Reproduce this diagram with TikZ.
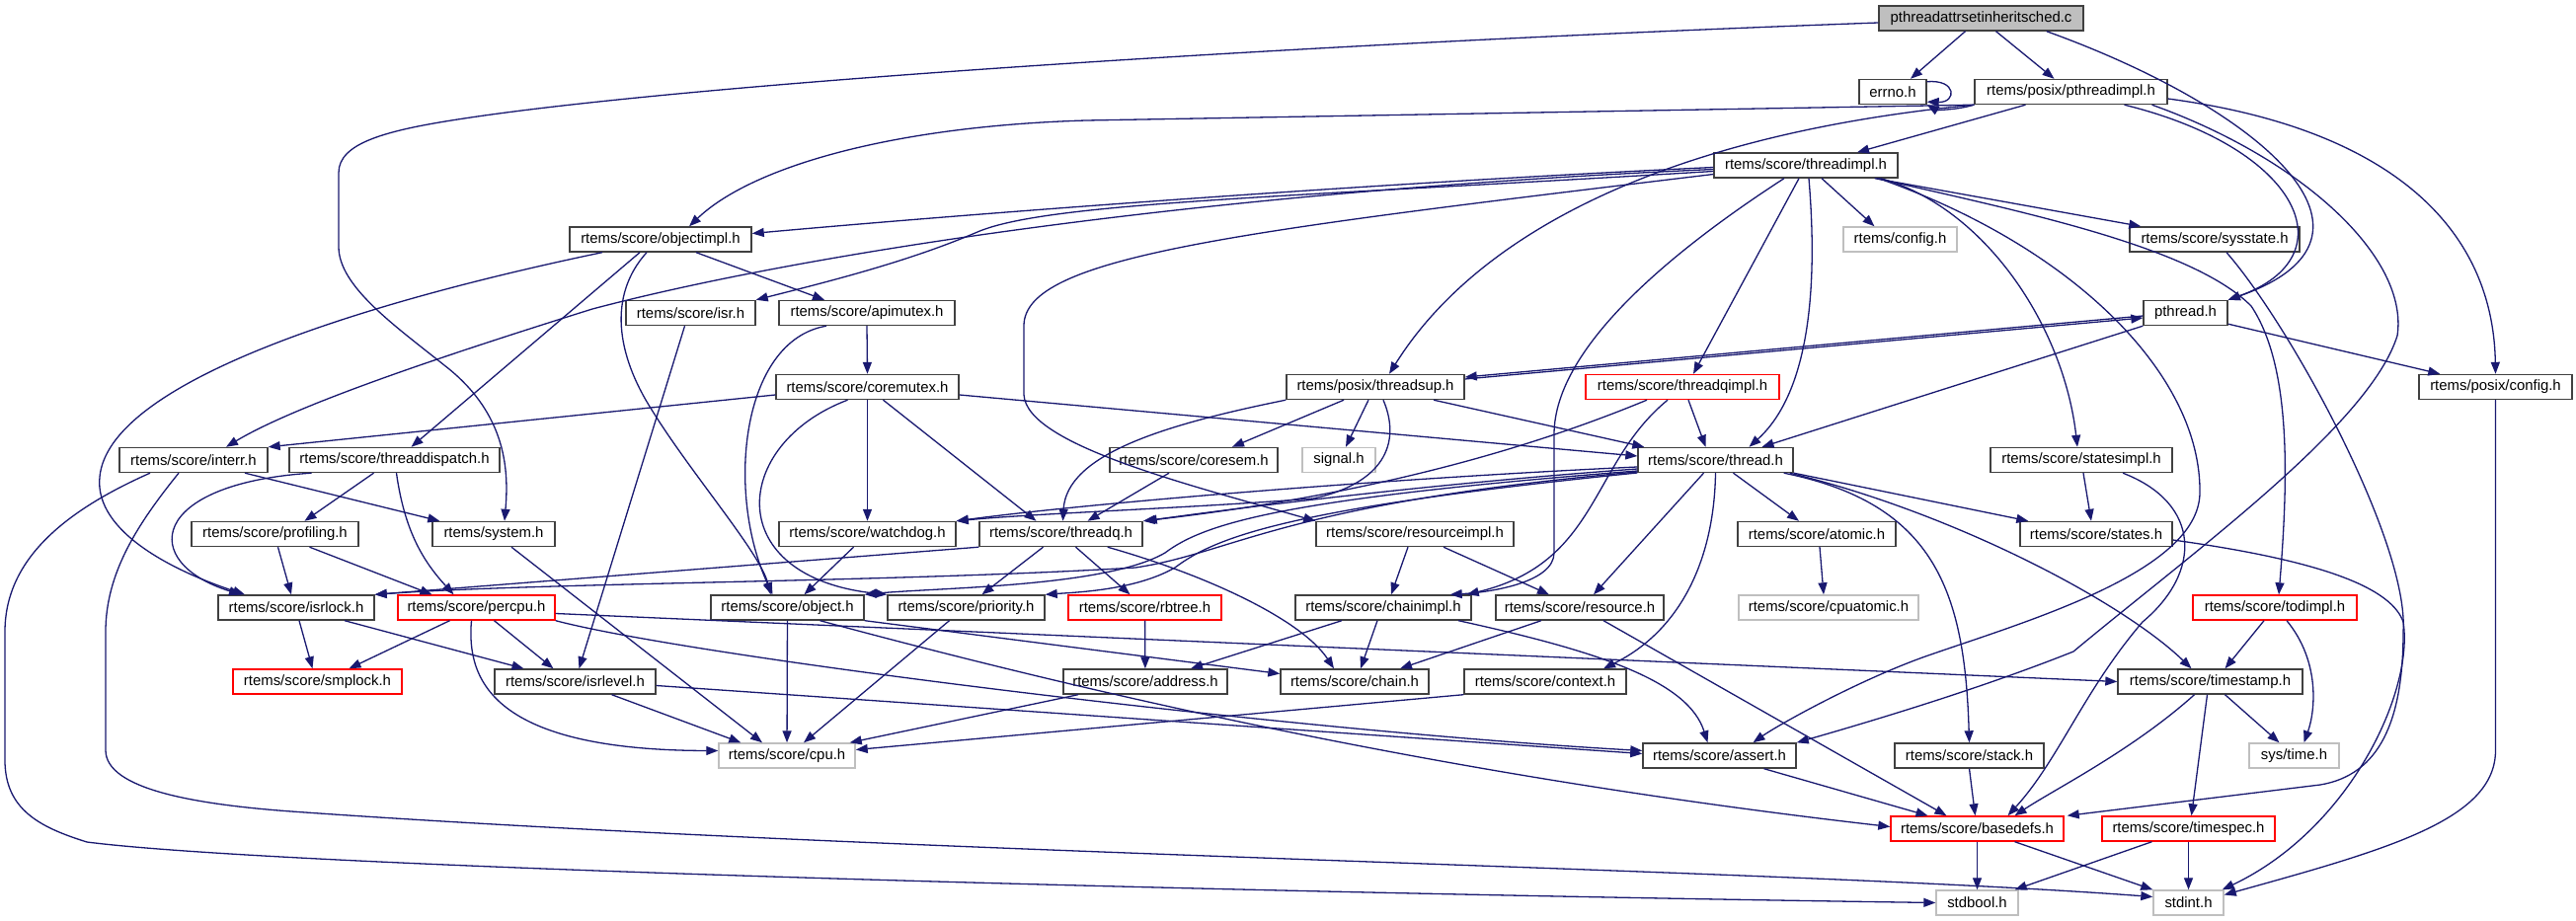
\documentclass[tikz,border=0pt]{standalone}
\usepackage{fontspec}
\setmainfont{Liberation Sans}
\usetikzlibrary{arrows.meta}
\definecolor{mblue}{RGB}{25,25,112}
\definecolor{gfive}{RGB}{64,64,64}
\definecolor{gsev}{RGB}{191,191,191}
\tikzset{
  nd/.style={draw=gfive, line width=1.4pt, fill=white, inner sep=0pt, minimum height=25pt, font=\fontsize{14.9pt}{17pt}\selectfont, text=black},
  rd/.style={nd, draw=red},
  gy/.style={nd, draw=gsev},
  dep/.style={draw=mblue, line width=1.3pt, -{Triangle[length=12pt,width=9pt]}},
}
\begin{document}
\begin{tikzpicture}[x=1pt,y=-1pt]
\path[use as bounding box, fill=white] (0,0) rectangle (2609,933);
% nodes
\node[nd, fill=gsev, minimum width=207pt] (T) at (2006.5,18.5) {pthreadattrsetinheritsched.c};
\node[nd, minimum width=68pt] (errno) at (1917,93) {errno.h};
\node[nd, minimum width=195pt] (PI) at (2097.5,93) {rtems/posix/pthreadimpl.h};
\node[nd, minimum width=186pt] (TI) at (1829,167.5) {rtems/score/threadimpl.h};
\node[nd, minimum width=184pt] (OI) at (669,242.5) {rtems/score/objectimpl.h};
\node[gy, minimum width=115pt] (CFG) at (1924.5,242.5) {rtems/config.h};
\node[nd, minimum width=172pt] (SYS) at (2243,242.5) {rtems/score/sysstate.h};
\node[nd, minimum width=131pt] (ISR) at (699.5,317) {rtems/score/isr.h};
\node[nd, minimum width=178pt] (AM) at (878,317) {rtems/score/apimutex.h};
\node[nd, minimum width=85pt] (PT) at (2213.5,317) {pthread.h};
\node[nd, minimum width=185pt] (CM) at (878.5,392) {rtems/score/coremutex.h};
\node[nd, minimum width=180pt] (TS) at (1393,392) {rtems/posix/threadsup.h};
\node[rd, minimum width=196pt] (TQI) at (1704,392) {rtems/score/threadqimpl.h};
\node[nd, minimum width=155pt] (PCFG) at (2527.5,392) {rtems/posix/config.h};
\node[nd, minimum width=150pt] (IE) at (196,466) {rtems/score/interr.h};
\node[nd, minimum width=213pt] (TD) at (399.5,466) {rtems/score/threaddispatch.h};
\node[nd, minimum width=170pt] (CS) at (1209,466) {rtems/score/coresem.h};
\node[gy, minimum width=74pt] (SIG) at (1356,466) {signal.h};
\node[nd, minimum width=157pt] (TH) at (1737.5,466) {rtems/score/thread.h};
\node[nd, minimum width=184pt] (SI) at (2108,466) {rtems/score/statesimpl.h};
\node[nd, minimum width=169pt] (PROF) at (278.5,541) {rtems/score/profiling.h};
\node[nd, minimum width=124pt] (SYSH) at (500,541) {rtems/system.h};
\node[nd, minimum width=179pt] (WD) at (878.5,541) {rtems/score/watchdog.h};
\node[nd, minimum width=165pt] (TQ) at (1074.5,541) {rtems/score/threadq.h};
\node[nd, minimum width=200pt] (RI) at (1433,541) {rtems/score/resourceimpl.h};
\node[nd, minimum width=160pt] (AT) at (1840,541) {rtems/score/atomic.h};
\node[nd, minimum width=154pt] (ST) at (2123,541) {rtems/score/states.h};
\node[nd, minimum width=158pt] (IL) at (300,615.5) {rtems/score/isrlock.h};
\node[rd, minimum width=159pt] (PC) at (482.5,615.5) {rtems/score/percpu.h};
\node[nd, minimum width=155pt] (OBJ) at (797.5,615.5) {rtems/score/object.h};
\node[nd, minimum width=159pt] (PRI) at (978.5,615.5) {rtems/score/priority.h};
\node[rd, minimum width=155pt] (RB) at (1159.5,615.5) {rtems/score/rbtree.h};
\node[nd, minimum width=178pt] (CI) at (1401,615.5) {rtems/score/chainimpl.h};
\node[nd, minimum width=170pt] (RES) at (1600,615.5) {rtems/score/resource.h};
\node[gy, minimum width=182pt] (CA) at (1852,615.5) {rtems/score/cpuatomic.h};
\node[rd, minimum width=166pt] (TOD) at (2304,615.5) {rtems/score/todimpl.h};
\node[rd, minimum width=171pt] (SMP) at (321.5,690.5) {rtems/score/smplock.h};
\node[nd, minimum width=163pt] (ILV) at (582.5,690.5) {rtems/score/isrlevel.h};
\node[nd, minimum width=166pt] (ADR) at (1160,690.5) {rtems/score/address.h};
\node[nd, minimum width=150pt] (CH) at (1372,690.5) {rtems/score/chain.h};
\node[nd, minimum width=164pt] (CTX) at (1565,690.5) {rtems/score/context.h};
\node[nd, minimum width=187pt] (TSP) at (2238.5,690.5) {rtems/score/timestamp.h};
\node[gy, minimum width=138pt] (CPU) at (797,765.5) {rtems/score/cpu.h};
\node[nd, minimum width=155pt] (AS) at (1741.5,765.5) {rtems/score/assert.h};
\node[nd, minimum width=151pt] (STK) at (1994.5,765.5) {rtems/score/stack.h};
\node[gy, minimum width=91pt] (STM) at (2323.5,765.5) {sys/time.h};
\node[rd, minimum width=175pt] (BD) at (2002.5,839.5) {rtems/score/basedefs.h};
\node[rd, minimum width=175pt] (TSPEC) at (2216.5,839.5) {rtems/score/timespec.h};
\node[gy, minimum width=83pt] (SB) at (2002.5,914.5) {stdbool.h};
\node[gy, minimum width=71pt] (SI2) at (2216.5,914.5) {stdint.h};
% top file
\draw[dep] ([xshift=-16pt]T.south) -- ([xshift=18pt]errno.north);
\draw[dep] ([xshift=15pt]T.south) -- ([xshift=-17pt]PI.north);
\draw[dep] ([xshift=-38pt]T.south east) .. controls (2290,110) and (2440,240) .. (PT.north east);
\draw[dep] ([yshift=-4.5pt]T.west) .. controls (1300,45) and (700,85) .. (470,120) .. controls (390,132) and (343,145) .. (343,175) -- (343,250) .. controls (343,290) and (400,330) .. (450,370) .. controls (515,420) and (515,480) .. ([xshift=11pt]SYSH.north);
% errno
\draw[dep] ([yshift=-3pt]errno.north east) .. controls (1982,80) and (1982,104) .. ([yshift=3pt]errno.south east);
% pthreadimpl
\draw[dep] (PI.south west) .. controls (1980,112) and (1960,111) .. (errno.south east);
\draw[dep] (PI.south west) -- (1100,122) .. controls (900,128) and (760,170) .. ([xshift=29pt]OI.north);
\draw[dep] (PI.south west) .. controls (1700,135) and (1500,230) .. ([xshift=14pt]TS.north);
\draw[dep] ([xshift=-46pt]PI.south) -- ([xshift=52pt]TI.north);
\draw[dep] ([xshift=54pt]PI.south) .. controls (2330,150) and (2380,260) .. (PT.north east);
\draw[dep] ([yshift=-7pt]PI.east) .. controls (2420,130) and (2525,230) .. (PCFG.north);
\draw[dep] ([xshift=82pt]PI.south) .. controls (2330,160) and (2440,260) .. (2428,340) .. controls (2400,430) and (2220,560) .. (2100,660) .. controls (2000,700) and (1880,735) .. (AS.north east);
% threadimpl
\draw[dep] ([yshift=-2pt]TI.west) .. controls (1400,185) and (1000,215) .. ([yshift=6pt]OI.east);
\draw[dep] ([yshift=-4pt]TI.west) .. controls (1200,195) and (800,260) .. (600,313) .. controls (450,360) and (300,410) .. ([xshift=33pt]IE.north);
\draw[dep] ([yshift=-6pt]TI.west) .. controls (1300,200) and (1060,205) .. (990,235) .. controls (920,265) and (840,285) .. (ISR.north east);
\draw[dep] ([yshift=-9pt]TI.west) .. controls (1250,235) and (1037,260) .. (1037,330) -- (1037,400) .. controls (1040,450) and (1200,490) .. (RI.north west);
\draw[dep] ([xshift=16pt]TI.south) -- ([xshift=-26pt]CFG.north);
\draw[dep] ([xshift=-24pt]TI.south east) -- ([xshift=12pt]SYS.north west);
\draw[dep] ([xshift=-18pt]TI.south east) .. controls (2010,210) and (2090,330) .. ([xshift=-4pt]SI.north);
\draw[dep] ([xshift=-22pt]TI.south east) .. controls (2050,215) and (2220,250) .. (2280,310) .. controls (2320,370) and (2318,480) .. ([xshift=4pt]TOD.north);
\draw[dep] ([xshift=-20pt]TI.south east) .. controls (2100,250) and (2230,380) .. (2228,500) .. controls (2226,580) and (2050,630) .. (1950,665) .. controls (1880,690) and (1800,735) .. ([xshift=34pt]AS.north);
\draw[dep] ([xshift=-22pt]TI.south) .. controls (1700,250) and (1574,350) .. (1574,440) -- (1574,560) .. controls (1574,590) and (1510,600) .. ([xshift=-22pt]CI.north east);
\draw[dep] ([xshift=-7pt]TI.south) -- ([xshift=11pt]TQI.north);
\draw[dep] ([xshift=3pt]TI.south) .. controls (1842,300) and (1830,400) .. ([xshift=34pt]TH.north);
% pthread.h
\draw[dep] ([yshift=-3pt]PT.west) -- ([yshift=10pt]TS.east);
\draw[dep] ([yshift=8pt]TS.east) -- ([yshift=-5pt]PT.west);
\draw[dep] ([yshift=2pt]PT.south east) -- ([xshift=22pt]PCFG.north west);
\draw[dep] (PT.south west) -- ([xshift=47pt]TH.north);
% threadsup
\draw[dep] ([xshift=-32pt]TS.south) -- ([xshift=39pt]CS.north);
\draw[dep] ([xshift=-7pt]TS.south) -- ([xshift=7pt]SIG.north);
\draw[dep] ([xshift=59pt]TS.south) -- ([xshift=7pt]TH.north west);
\draw[dep] (TS.south west) .. controls (1180,430) and (1080,460) .. ([xshift=2pt]TQ.north);
\draw[dep] ([xshift=8pt]TS.south) .. controls (1420,450) and (1400,490) .. (1330,505) .. controls (1200,515) and (1050,520) .. (WD.north east);
% threadqimpl
\draw[dep] ([xshift=6pt]TQI.south) -- ([xshift=-10pt]TH.north);
\draw[dep] ([xshift=-15pt]TQI.south) .. controls (1610,470) and (1620,570) .. ([xshift=-5pt]CI.north east);
\draw[dep] ([xshift=-36pt]TQI.south) .. controls (1560,450) and (1400,500) .. (TQ.north east);
% thread.h
\draw[dep] ([xshift=18pt]TH.south) -- ([xshift=-18pt]AT.north);
\draw[dep] ([xshift=-12pt]TH.south) -- ([xshift=14pt]RES.north);
\draw[dep] (TH.south) .. controls (1736,570) and (1700,640) .. ([xshift=59pt]CTX.north);
\draw[dep] ([xshift=-10pt]TH.south east) .. controls (1960,510) and (1990,600) .. (STK.north);
\draw[dep] (TH.south east) -- ([xshift=9pt]ST.north west);
\draw[dep] ([xshift=-4pt]TH.south east) .. controls (1980,520) and (2150,610) .. ([xshift=-19pt]TSP.north);
\draw[dep] ([yshift=-7pt]TH.west) .. controls (1400,485) and (1100,510) .. (WD.north east);
\draw[dep] ([yshift=-9pt]TH.west) .. controls (1450,490) and (1250,515) .. ([xshift=2pt]TQ.north east);
\draw[dep] ([yshift=-11pt]TH.west) .. controls (1300,505) and (1220,530) .. (1180,560) .. controls (1120,595) and (950,595) .. (OBJ.north east);
\draw[dep] ([yshift=-13pt]TH.west) .. controls (1300,515) and (1230,545) .. (1190,575) .. controls (1150,598) and (1090,600) .. (PRI.north east);
\draw[dep] ([yshift=-12pt]TH.west) .. controls (1300,510) and (1250,560) .. (1150,575) .. controls (900,590) and (550,590) .. (IL.north east);
% coremutex
\draw[dep] ([yshift=-8pt]CM.west) -- (IE.north east);
\draw[dep] ([yshift=-8pt]CM.east) -- ([yshift=4pt]TH.west);
\draw[dep] (CM) -- (WD);
\draw[dep] ([xshift=16pt]CM.south) -- ([xshift=-25pt]TQ.north);
\draw[dep] ([xshift=-20pt]CM.south) .. controls (740,450) and (730,585) .. (PRI.north west);
% apimutex
\draw[dep] (AM.south) -- (CM.north);
\draw[dep] ([xshift=-41pt]AM.south) .. controls (750,345) and (735,500) .. ([xshift=-15pt]OBJ.north);
% objectimpl
\draw[dep] ([xshift=36pt]OI.south) -- ([xshift=-43pt]AM.north);
\draw[dep] ([xshift=-21pt]OI.south) -- ([xshift=17pt]TD.north);
\draw[dep] ([xshift=-14pt]OI.south) .. controls (615,300) and (625,360) .. (660,415) .. controls (700,480) and (770,560) .. ([xshift=-17pt]OBJ.north);
\draw[dep] ([xshift=-59pt]OI.south) .. controls (350,310) and (110,390) .. (101,483) .. controls (95,540) and (180,580) .. ([xshift=-52pt]IL.north);
% isr
\draw[dep] ([xshift=-6pt]ISR.south) -- ([xshift=4pt]ILV.north);
% coresem
\draw[dep] ([xshift=-25pt]CS.south) -- ([xshift=27pt]TQ.north);
% threaddispatch
\draw[dep] ([xshift=-21pt]TD.south) -- ([xshift=30pt]PROF.north);
\draw[dep] ([xshift=-84pt]TD.south) .. controls (150,490) and (140,570) .. ([xshift=-56pt]IL.north);
\draw[dep] ([xshift=2pt]TD.south) .. controls (410,540) and (430,570) .. ([xshift=-23pt]PC.north);
% interr
\draw[dep] ([xshift=52pt]IE.south) -- ([xshift=8pt]SYSH.north west);
\draw[dep] ([xshift=-44pt]IE.south) .. controls (60,520) and (5,570) .. (5,640) -- (5,770) .. controls (5,820) and (40,838) .. (88,853) .. controls (300,880) and (1300,905) .. (SB.west);
\draw[dep] ([xshift=-15pt]IE.south) .. controls (140,530) and (107,580) .. (107,640) -- (107,760) .. controls (107,800) and (200,815) .. (295,822) .. controls (900,865) and (1800,880) .. ([yshift=6pt]SI2.west);
% profiling
\draw[dep] ([xshift=3pt]PROF.south) -- ([xshift=-5pt]IL.north);
\draw[dep] ([xshift=35pt]PROF.south) -- ([xshift=-45pt]PC.north);
% system.h
\draw[dep] ([xshift=18pt]SYSH.south) -- ([xshift=-25pt]CPU.north);
% isrlock
\draw[dep] ([xshift=3pt]IL.south) -- ([xshift=-5pt]SMP.north);
\draw[dep] ([xshift=49pt]IL.south) -- ([xshift=-52pt]ILV.north);
% percpu
\draw[dep] ([xshift=-27pt]PC.south) -- ([xshift=32pt]SMP.north);
\draw[dep] ([xshift=18pt]PC.south) -- ([xshift=-22pt]ILV.north);
\draw[dep] ([xshift=-5pt]PC.south) .. controls (472,690) and (500,760) .. ([yshift=5pt]CPU.west);
\draw[dep] (PC.south east) .. controls (700,665) and (1300,740) .. ([yshift=5pt]AS.west);
\draw[dep] ([yshift=-6pt]PC.east) -- (TSP.west);
% object
\draw[dep] (OBJ) -- (CPU);
\draw[dep] ([xshift=33pt]OBJ.south) .. controls (1150,715) and (1500,790) .. ([yshift=2pt]BD.west);
\draw[dep] (OBJ.south east) -- ([yshift=8pt]CH.west);
% priority, rbtree
\draw[dep] ([xshift=-17pt]PRI.south) -- ([xshift=17pt]CPU.north);
\draw[dep] (RB) -- (ADR);
% threadq
\draw[dep] ([xshift=-18pt]TQ.south) -- ([xshift=16pt]PRI.north);
\draw[dep] ([xshift=15pt]TQ.south) -- ([xshift=-15pt]RB.north);
\draw[dep] ([xshift=-36pt]TQ.south east) .. controls (1230,585) and (1320,630) .. ([xshift=-21pt]CH.north);
\draw[dep] (TQ.south west) -- (IL.north east);
% watchdog
\draw[dep] ([xshift=-14pt]WD.south) -- ([xshift=17pt]OBJ.north);
% resourceimpl
\draw[dep] ([xshift=-7pt]RI.south) -- ([xshift=8pt]CI.north);
\draw[dep] ([xshift=29pt]RI.south) -- ([xshift=-31pt]RES.north);
% chainimpl
\draw[dep] ([xshift=-42pt]CI.south) -- ([xshift=46pt]ADR.north);
\draw[dep] ([xshift=-6pt]CI.south) -- ([xshift=6pt]CH.north);
\draw[dep] ([xshift=76pt]CI.south) .. controls (1620,660) and (1710,690) .. ([xshift=-12pt]AS.north);
% resource
\draw[dep] ([xshift=-39pt]RES.south) -- ([xshift=46pt]CH.north);
\draw[dep] ([xshift=24pt]RES.south) -- ([xshift=-31pt]BD.north);
% address, context, isrlevel
\draw[dep] ([xshift=-68pt]ADR.south) -- ([xshift=-6pt]CPU.north east);
\draw[dep] (CTX.south west) -- ([yshift=6pt]CPU.east);
\draw[dep] ([xshift=37pt]ILV.south) -- ([xshift=23pt]CPU.north west);
\draw[dep] ([yshift=-4pt]ILV.east) -- ([yshift=2pt]AS.west);
% sysstate
\draw[dep] ([xshift=12pt]SYS.south) .. controls (2320,330) and (2440,550) .. (2434,640) .. controls (2434,730) and (2410,785) .. (2350,795) -- ([xshift=3pt]BD.north east);
% states
\draw[dep] ([yshift=-6pt]ST.east) .. controls (2330,565) and (2420,590) .. (2434,630) .. controls (2445,700) and (2380,840) .. ([xshift=-2pt]SI2.north east);
% statesimpl
\draw[dep] ([xshift=2pt]SI.south) -- ([xshift=-5pt]ST.north);
\draw[dep] ([xshift=42pt]SI.south) .. controls (2230,510) and (2230,580) .. (2170,630) .. controls (2110,700) and (2085,770) .. ([xshift=31pt]BD.north);
% todimpl
\draw[dep] ([xshift=-11pt]TOD.south) -- ([xshift=15pt]TSP.north);
\draw[dep] ([xshift=12pt]TOD.south) .. controls (2350,670) and (2345,720) .. ([xshift=10pt]STM.north);
% timestamp
\draw[dep] ([xshift=-16pt]TSP.south) .. controls (2160,760) and (2080,800) .. ([xshift=38pt]BD.north);
\draw[dep] ([xshift=-3pt]TSP.south) -- ([xshift=3pt]TSPEC.north);
\draw[dep] ([xshift=15pt]TSP.south) -- ([xshift=-15pt]STM.north);
% stack, assert
\draw[dep] (STK.south) -- ([xshift=-2pt]BD.north);
\draw[dep] ([xshift=45pt]AS.south) -- ([xshift=-50pt]BD.north);
% basedefs, timespec
\draw[dep] (BD) -- (SB);
\draw[dep] ([xshift=38pt]BD.south) -- (SI2.north west);
\draw[dep] ([xshift=-37pt]TSPEC.south) -- ([xshift=-4pt]SB.north east);
\draw[dep] (TSPEC) -- (SI2);
% posix config
\draw[dep] (PCFG.south) -- (2527.5,760) .. controls (2527.5,830) and (2420,860) .. ([yshift=8pt]SI2.east);
% atomic
\draw[dep] ([xshift=3pt]AT.south) -- ([xshift=-5pt]CA.north);
\end{tikzpicture}
\end{document}
